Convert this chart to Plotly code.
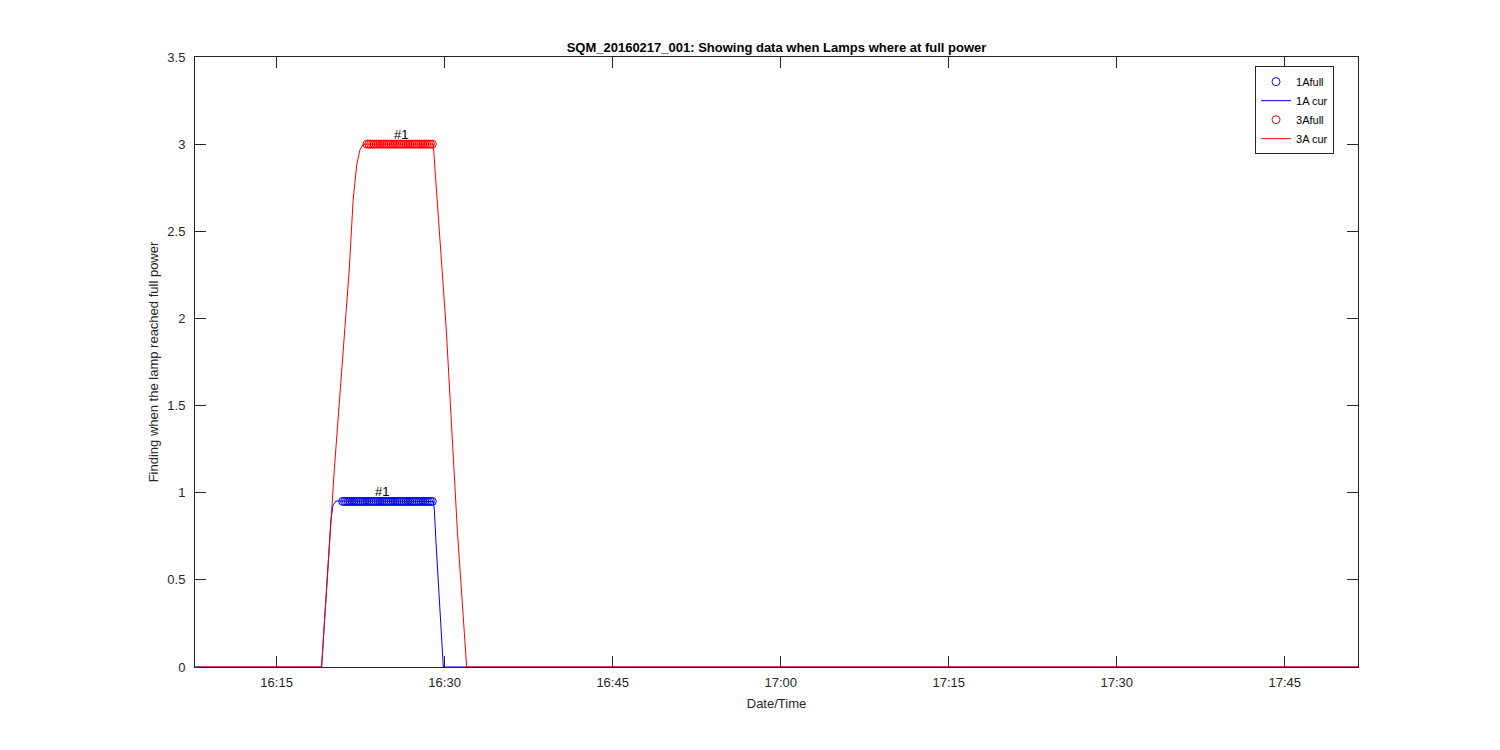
import plotly.graph_objects as go

DAY = "2016-02-17 "

# Lamp current curves (time, value)
cur_1a_times = ["16:07:43", "16:19:01", "16:19:51", "16:20:02", "16:20:18",
                "16:29:00", "16:29:05", "16:29:13", "16:29:53", "17:51:32"]
cur_1a_vals = [0, 0, 0.843, 0.929, 0.952, 0.95, 0.90, 0.729, 0, 0]

cur_3a_times = ["16:07:43", "16:19:01", "16:20:09", "16:21:29", "16:21:50",
                "16:22:09", "16:22:26", "16:22:44", "16:28:59", "16:30:09",
                "16:31:08", "16:31:58", "17:51:32"]
cur_3a_vals = [0, 0, 1.130, 2.278, 2.679, 2.880, 2.966, 3.0, 3.0, 1.933,
               0.786, 0, 0]

# Samples flagged as "full power"
full_1a_times = [
    "16:20:54",
    "16:21:04", "16:21:14", "16:21:24", "16:21:34", "16:21:44", "16:21:54",
    "16:22:04", "16:22:14", "16:22:24", "16:22:34", "16:22:44", "16:22:54",
    "16:23:04", "16:23:14", "16:23:24", "16:23:34", "16:23:44", "16:23:54",
    "16:24:04", "16:24:14", "16:24:24", "16:24:34", "16:24:44", "16:24:54",
    "16:25:04", "16:25:14", "16:25:24", "16:25:34", "16:25:44", "16:25:54",
    "16:26:04", "16:26:14", "16:26:24", "16:26:34", "16:26:44", "16:26:54",
    "16:27:04", "16:27:14", "16:27:24", "16:27:34", "16:27:44", "16:27:54",
    "16:28:04", "16:28:14", "16:28:24", "16:28:34", "16:28:44", "16:28:54",
]
full_1a_level = 0.95

full_3a_times = [
    "16:23:04", "16:23:14", "16:23:24", "16:23:34", "16:23:44", "16:23:54",
    "16:24:04", "16:24:14", "16:24:24", "16:24:34", "16:24:44", "16:24:54",
    "16:25:04", "16:25:14", "16:25:24", "16:25:34", "16:25:44", "16:25:54",
    "16:26:04", "16:26:14", "16:26:24", "16:26:34", "16:26:44", "16:26:54",
    "16:27:04", "16:27:14", "16:27:24", "16:27:34", "16:27:44", "16:27:54",
    "16:28:04", "16:28:14", "16:28:24", "16:28:34", "16:28:44", "16:28:54",
]
full_3a_level = 3.0

# "#1" labels
label_texts = ["#1", "#1"]
label_times = ["16:24:22", "16:26:04"]
label_vals = [0.95, 3.0]

x_ticks = ["16:15", "16:30", "16:45", "17:00", "17:15", "17:30", "17:45"]
y_ticks = [0, 0.5, 1, 1.5, 2, 2.5, 3, 3.5]
y_tick_text = ["0", "0.5", "1", "1.5", "2", "2.5", "3", "3.5"]


def ts(lst):
    return [DAY + t for t in lst]


BLUE = "#0000ff"
RED = "#ff0000"
AX = "#262626"
FONT = "Liberation Sans, Arial, Helvetica, sans-serif"

fig = go.Figure()
fig.add_trace(go.Scatter(
    x=ts(full_1a_times), y=[full_1a_level] * len(full_1a_times), mode="markers",
    name="1Afull",
    marker=dict(symbol="circle-open", size=8, color=BLUE, line=dict(width=1, color=BLUE))))
fig.add_trace(go.Scatter(
    x=ts(cur_1a_times), y=cur_1a_vals, mode="lines", name="1A cur",
    line=dict(color=BLUE, width=1)))
fig.add_trace(go.Scatter(
    x=ts(full_3a_times), y=[full_3a_level] * len(full_3a_times), mode="markers",
    name="3Afull",
    marker=dict(symbol="circle-open", size=8, color=RED, line=dict(width=1, color=RED))))
fig.add_trace(go.Scatter(
    x=ts(cur_3a_times), y=cur_3a_vals, mode="lines", name="3A cur",
    line=dict(color=RED, width=1)))

for txt, t, v in zip(label_texts, label_times, label_vals):
    fig.add_annotation(x=DAY + t, y=v, text=txt, showarrow=False,
                       xanchor="center", yanchor="bottom", yshift=0,
                       font=dict(family=FONT, size=13, color="#000000"))

fig.update_layout(
    width=1500, height=750,
    paper_bgcolor="white", plot_bgcolor="white",
    margin=dict(l=187, r=150, t=49, b=91),
    font=dict(family=FONT, size=13, color=AX),
    title=dict(text="<b>SQM_20160217_001: Showing data when Lamps where at full power</b>",
               x=0.5, xref="paper", y=1 - 39 / 750, yref="container",
               xanchor="center", yanchor="middle",
               font=dict(family=FONT, size=13, color="#000000")),
    showlegend=True,
    legend=dict(x=0.9794, xanchor="right", y=0.985, yanchor="top",
                bgcolor="white", bordercolor=AX, borderwidth=1,
                font=dict(family=FONT, size=11, color="#000000"),
                tracegroupgap=0),
    xaxis=dict(
        range=[DAY + cur_3a_times[0], DAY + cur_3a_times[-1]],
        tickmode="array", tickvals=ts(x_ticks), ticktext=x_ticks,
        ticks="inside", ticklen=11, tickcolor=AX, tickwidth=1,
        showline=True, linecolor=AX, linewidth=1, mirror="ticks",
        showgrid=False, zeroline=False, ticklabelstandoff=3,
        layer="below traces",
        title=dict(text="Date/Time", standoff=10, font=dict(size=13, color=AX)),
    ),
    yaxis=dict(
        range=[0, 3.5], tickmode="array", tickvals=y_ticks, ticktext=y_tick_text,
        ticks="inside", ticklen=11, tickcolor=AX, tickwidth=1,
        showline=True, linecolor=AX, linewidth=1, mirror="ticks",
        showgrid=False, zeroline=False, ticklabelstandoff=6,
        layer="below traces",
        title=dict(text="Finding when the lamp reached full power", standoff=5,
                   font=dict(size=13, color=AX)),
    ),
)

fig.write_html("out.html")
